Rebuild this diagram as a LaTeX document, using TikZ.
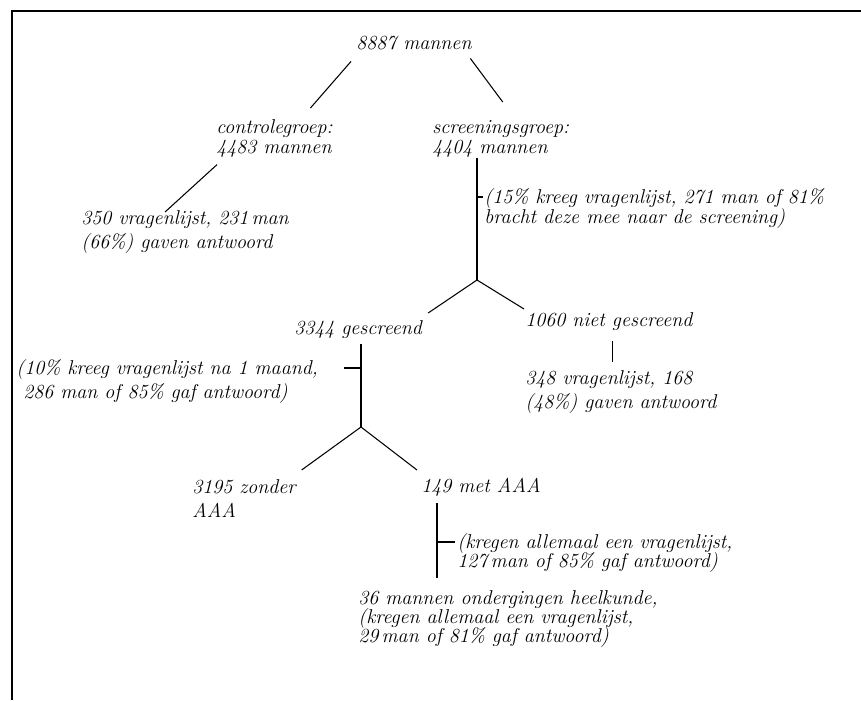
\documentclass[tikz,border=0pt]{standalone}
\usetikzlibrary{positioning,calc}
\tikzset{
    x=0.02cm,
    y=-0.02cm,
    entry/.style = {
        anchor=north west,
        align=left,
        inner sep=0pt,
        font={\fontsize{11.4}{11.4}\selectfont\itshape\lineskiplimit=-20pt}
    },
    loose/.style = {
        entry,
        font={\fontsize{11.4}{13.4}\selectfont\itshape\lineskiplimit=-20pt}
    },
    tight/.style = {
        entry,
        font={\fontsize{11.4}{10.8}\selectfont\itshape\lineskiplimit=-20pt}
    },
    branch/.style = {
        line width=0.6pt
    },
    frame/.style = {
        line width=1.2pt
    },
}
\begin{document}
\begin{tikzpicture}
    \useasboundingbox (0,0) rectangle (861,700);
    \path[draw, frame] (861,11) -| (12,700);

    \node[entry] (root) at (356,35.5) {8887 mannen};
    \node[entry] (ctrl) at (216,119.5) {controlegroep:\\4483 mannen};
    \node[entry] (scr) at (432,120) {screeningsgroep:\\4404 mannen};
    \node[loose] (ctrlq) at (81,210.5) {350 vragenlijst, 231\,man\\(66\%) gaven antwoord};
    \node[entry] (scrnote) at (484,188.5) {(15\% kreeg vragenlijst, 271 man of 81\%\\bracht deze mee naar de screening)};
    \node[entry] (gesc) at (294,320.5) {3344 gescreend};
    \node[entry] (niet) at (525,312.5) {1060 niet gescreend};
    \node[loose] (gescnote) at (16,359.5) {(10\% kreeg vragenlijst na 1 maand,\\\ 286 man of 85\% gaf antwoord)};
    \node[loose] (nietq) at (525,370.5) {348 vragenlijst, 168\\(48\%) gaven antwoord};
    \node[loose] (zonder) at (192,479.5) {3195 zonder\\AAA};
    \node[entry] (met) at (421,477.5) {149 met AAA};
    \node[tight] (metnote) at (457,533.5) {(kregen allemaal een vragenlijst,\\127\,man of 85\% gaf antwoord)};
    \node[tight] (heel) at (358,590) {36 mannen ondergingen heelkunde,\\(kregen allemaal een vragenlijst,\\29\,man of 81\% gaf antwoord)};

    \coordinate (split1) at (477,280);
    \coordinate (split2) at (361,427);

    \path[draw, branch] ([shift={(-5,11.5)}]root.south west) -- ([shift={(36,-11.5)}]ctrl.north);
    \path[draw, branch] ([shift={(-1.5,8.5)}]root.south east) -- ([shift={(2,-18)}]scr.north);
    \path[draw, branch] ([shift={(1,6.6)}]ctrl.south west) -- ([shift={(-20,1.5)}]ctrlq.north);

    \path[draw, branch] (split1 |- scr.south) -- (split1);
    \coordinate (t1) at ([shift={(-1,8.5)}]scrnote.north west);
    \path[draw, branch] (t1 -| split1) -- (t1);
    \path[draw, branch] (split1) -- ([shift={(6,-7.5)}]gesc.north east);
    \path[draw, branch] (split1) -- ([shift={(-1,-3.5)}]niet.north west);

    \coordinate (n1) at ([shift={(4,10)}]niet.south);
    \path[draw, branch, shorten >=1.7mm] (n1) -- (n1 |- nietq.north);

    \path[draw, branch, shorten >=1mm] (split2) -- (split2 |- gesc.south);
    \coordinate (t2) at ([shift={(0,8.5)}]gescnote.north west);
    \path[draw, branch] (t2 -| split2) -- ++(-17,0);
    \path[draw, branch] (split2) -- ([shift={(5.5,-9.5)}]zonder.north east);
    \path[draw, branch] (split2) -- ([shift={(-4,-7.5)}]met.north west);

    \coordinate (m1) at ([shift={(16,7)}]met.south west);
    \path[draw, branch, shorten >=2.4mm] (m1) -- (m1 |- heel.north);
    \coordinate (t3) at ([shift={(-2,8.5)}]metnote.north west);
    \path[draw, branch] (t3 -| m1) -- (t3);
\end{tikzpicture}
\end{document}
